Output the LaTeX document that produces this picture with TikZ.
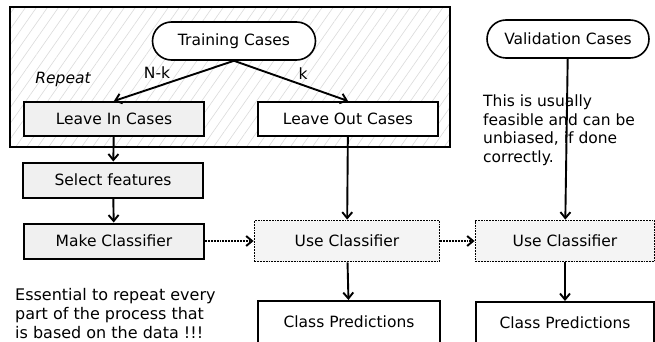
\documentclass[tikz,border=0pt]{standalone}
\usepackage{fontspec}
\setmainfont{DejaVu Sans}
\usetikzlibrary{arrows.meta,patterns.meta,shapes.misc}
\definecolor{boxgray}{HTML}{F0F0F0}
\definecolor{usegray}{HTML}{F4F4F4}
\begin{document}
\begin{tikzpicture}[x=1pt,y=-1pt,
  every node/.style={font=\fontsize{15.5}{18}\selectfont, inner sep=0pt},
  box/.style={draw, line width=2pt, minimum width=180pt, minimum height=34pt},
  graybox/.style={box, fill=boxgray},
  whitebox/.style={box, fill=white},
  usebox/.style={draw, densely dotted, line width=1.8pt, fill=usegray, minimum height=41pt},
  oval/.style={draw, line width=1.6pt, rounded rectangle, fill=white, minimum height=38pt},
  arr/.style={-{Straight Barb[length=6pt,width=10pt]}, line width=1.9pt},
  dotarr/.style={arr, densely dotted},
  lbl/.style={font=\fontsize{15.5}{18}\selectfont}
]
\useasboundingbox (0,0) rectangle (655,342);
\clip (0,0) rectangle (655,342);
% repeat frame
\fill[white] (10,7) rectangle (450,147);
\fill[pattern={Lines[angle=55,distance=9pt,line width=0.6pt]}, pattern color=black!14] (10,7) rectangle (450,147);
\node[draw, line width=1.6pt, minimum width=440pt, minimum height=140pt] (frame) at (230,77) {};
\node[oval, minimum width=163pt] (train) at (234,41) {Training Cases};
\node[oval, minimum width=162pt] (valid) at (568,39) {Validation Cases};
\node[lbl, font=\fontsize{15.5}{18}\selectfont\itshape] (repeat) at (63,79) {Repeat};
\node[graybox] (leavein) at (114,119) {Leave In Cases};
\node[whitebox] (leaveout) at (348,119) {Leave Out Cases};
\node[graybox, minimum height=35pt] (select) at (113,180) {Select features};
\node[graybox, minimum height=35pt] (make) at (114,241) {Make Classifier};
\node[usebox, minimum width=185pt] (use1) at (347,241) {Use Classifier};
\node[usebox, minimum width=179pt] (use2) at (565,241) {Use Classifier};
\node[whitebox, minimum width=182pt, minimum height=42pt] (pred1) at (349,322) {Class Predictions};
\node[whitebox, minimum width=178pt, minimum height=42pt] (pred2) at (565,323) {Class Predictions};
\draw[arr] (train.south) -- (leavein.north);
\draw[arr] (train.south) -- (leaveout.north);
\node[lbl] (nk) at (157,73) {N-k};
\node[lbl] (k) at (303,74) {k};
\draw[arr] (leavein) -- (select);
\draw[arr] (select) -- (make);
\draw[dotarr] (make) -- (use1);
\draw[dotarr] (use1) -- (use2);
\draw[arr] (leaveout) -- (use1);
\draw[arr] (valid) -- (use2);
\draw[arr] (use1) -- (pred1);
\draw[arr] (use2) -- (pred2);
\node[anchor=north west, align=left, font=\fontsize{15.5}{18.5}\selectfont] (note1) at (483,95)
  {This is usually\\feasible and can be\\unbiased, if done\\correctly.};
\node[anchor=north west, align=left, font=\fontsize{16}{19}\selectfont] (note2) at (15,288)
  {Essential to repeat every\\part of the process that\\is based on the data !!!};
\end{tikzpicture}
\end{document}
